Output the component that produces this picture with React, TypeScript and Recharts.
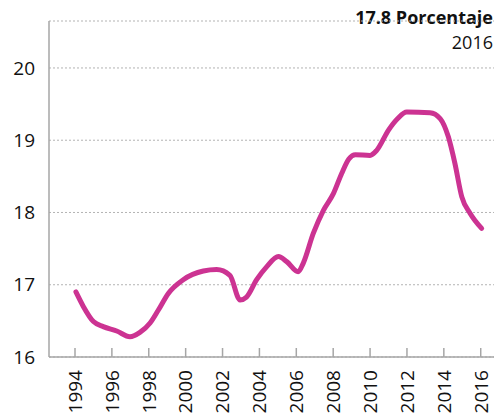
import React from 'react';
import { LineChart, Line, XAxis, YAxis, CartesianGrid } from 'recharts';

// readings taken off the reference line
const YEARS = [
  1994.05, 1994.45, 1995.0, 1995.53, 1996.26, 1996.98, 1997.52, 1998.07, 1998.52, 1999.06,
  1999.87, 2000.96, 2001.68, 2002.4, 2002.95, 2003.3, 2003.85, 2004.4, 2005.03, 2005.48,
  2006.1, 2006.38, 2006.92, 2007.47, 2008.01, 2008.46, 2008.85, 2009.2, 2010.0, 2010.36,
  2011.0, 2011.5, 2011.99, 2013.25, 2013.8, 2014.24, 2014.6, 2014.97, 2015.42, 2016.05,
];
const VALUES = [
  16.9, 16.7, 16.49, 16.42, 16.36, 16.28, 16.34, 16.47, 16.65, 16.88,
  17.07, 17.19, 17.21, 17.13, 16.79, 16.83, 17.07, 17.25, 17.39, 17.32,
  17.18, 17.3, 17.71, 18.03, 18.26, 18.54, 18.74, 18.8, 18.79, 18.86,
  19.14, 19.3, 19.39, 19.38, 19.3, 19.05, 18.68, 18.22, 17.99, 17.78,
];
const X_TICKS = [1994, 1996, 1998, 2000, 2002, 2004, 2006, 2008, 2010, 2012, 2014, 2016];
const Y_TICKS = [16, 17, 18, 19, 20];

const data = YEARS.map((year, i) => ({ year, value: VALUES[i] }));

const FONT = '"Open Sans", Lato, sans-serif';
const AXIS_Y = 357;

const YearTick = ({ x, payload }: any) => (
  <g>
    <line x1={x} x2={x} y1={AXIS_Y} y2={AXIS_Y - 9} stroke="#a6a6a6" strokeWidth={1.5} />
    <text
      x={x}
      y={370}
      transform={`rotate(-90 ${x} 370)`}
      textAnchor="end"
      dy="0.36em"
      fontSize={19}
      fontFamily={FONT}
      fill="#111"
    >
      {payload.value}
    </text>
  </g>
);

export default function App() {
  return (
    <div style={{ position: 'absolute', left: 0, top: 0, width: 503, height: 418, background: '#fff' }}>
      <div
        style={{
          position: 'absolute', right: 10, top: 5, textAlign: 'right', fontFamily: FONT,
          color: '#111', lineHeight: '25px',
        }}
      >
        <div style={{ fontSize: 18, fontWeight: 700 }}>17.8 Porcentaje</div>
        <div style={{ fontSize: 18 }}>2016</div>
      </div>
      <LineChart width={503} height={418} data={data} margin={{ top: 21, right: 9, left: 0, bottom: 0 }}>
        <CartesianGrid vertical={false} stroke="#b3b3b3" strokeDasharray="2 2" />
        <XAxis
          dataKey="year"
          type="number"
          domain={[1992.59, 2016.72]}
          ticks={X_TICKS}
          height={61}
          tickSize={0}
          tickMargin={0}
          tickLine={false}
          axisLine={{ stroke: '#a6a6a6', strokeWidth: 1.5 }}
          tick={<YearTick />}
          interval={0}
        />
        <YAxis
          type="number"
          domain={[16, 20.65]}
          ticks={Y_TICKS}
          width={49}
          tickLine={false}
          tickSize={6}
          tickMargin={8}
          axisLine={{ stroke: '#a6a6a6', strokeWidth: 1.5 }}
          tick={{ fontSize: 19, fontFamily: FONT, fill: '#111' }}
          allowDataOverflow
        />
        <Line
          dataKey="value"
          type="monotone"
          stroke="#cc3392"
          strokeWidth={5}
          strokeLinecap="round"
          dot={false}
          isAnimationActive={false}
        />
      </LineChart>
    </div>
  );
}
